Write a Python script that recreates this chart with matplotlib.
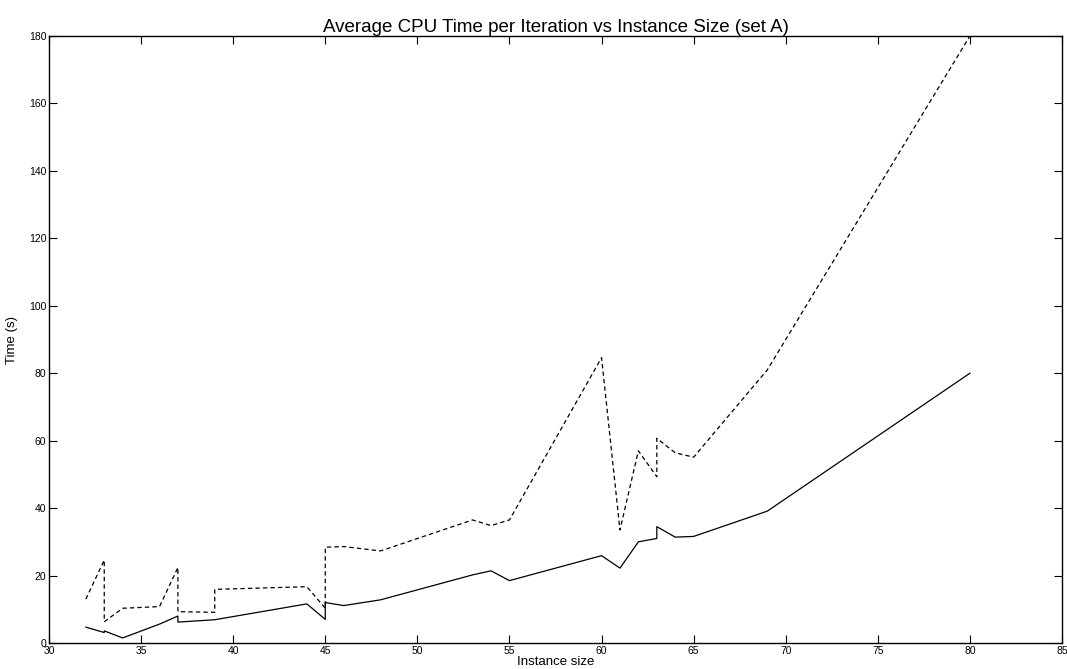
import matplotlib
matplotlib.use("Agg")
import matplotlib.pyplot as plt

plt.rcParams['font.family'] = ['Liberation Sans', 'DejaVu Sans']

# instance sizes (repeated x means a jump between two instances of same size)
sizes = [32, 33, 33, 34, 36, 37, 37, 39, 39, 44, 45, 45, 46, 48, 53, 54, 55,
         60, 61, 62, 63, 63, 64, 65, 69, 80]
# solid line
time_solid = [4.7, 3.1, 3.6, 1.5, 5.6, 8.0, 6.2, 6.9, 6.9, 11.6, 7.0, 12.0, 11.1,
              12.8, 20.2, 21.4, 18.5, 25.9, 22.2, 30.0, 31.0, 34.5, 31.4, 31.6,
              39.1, 80.0]
# dashed line
time_dashed = [13.0, 24.6, 6.3, 10.3, 10.8, 22.4, 9.3, 9.1, 15.9, 16.7, 10.3, 28.4,
               28.6, 27.3, 36.5, 34.8, 36.5, 84.6, 33.5, 57.0, 49.3, 60.7, 56.4,
               55.1, 81.0, 180.0]

xticks = list(range(30, 90, 5))
yticks = list(range(0, 200, 20))

fig = plt.figure(figsize=(10.67, 6.69), dpi=100)
ax = fig.add_axes([49 / 1067, 1 - 643 / 669, (1062 - 49) / 1067, (643 - 36) / 669])

ax.plot(sizes, time_solid, color='black', linewidth=0.9)
ax.plot(sizes, time_dashed, color='black', linewidth=0.9, linestyle=(0, (3.5, 2.5)))

ax.set_xlim(30, 85)
ax.set_ylim(0, 180)
ax.set_xticks(xticks)
ax.set_yticks(yticks)
ax.tick_params(direction='in', length=6, width=0.8, labelsize=7.5,
               top=True, right=True, pad=2)
for s in ax.spines.values():
    s.set_linewidth(1.0)

ax.set_title('Average CPU Time per Iteration vs Instance Size (set A)',
             fontsize=13.5, pad=3)
ax.set_xlabel('Instance size', fontsize=9.5, labelpad=0)
ax.set_ylabel('Time (s)', fontsize=9.5)
ax.yaxis.set_label_coords(-0.031, 0.5)

fig.savefig('out.png', dpi=100)
